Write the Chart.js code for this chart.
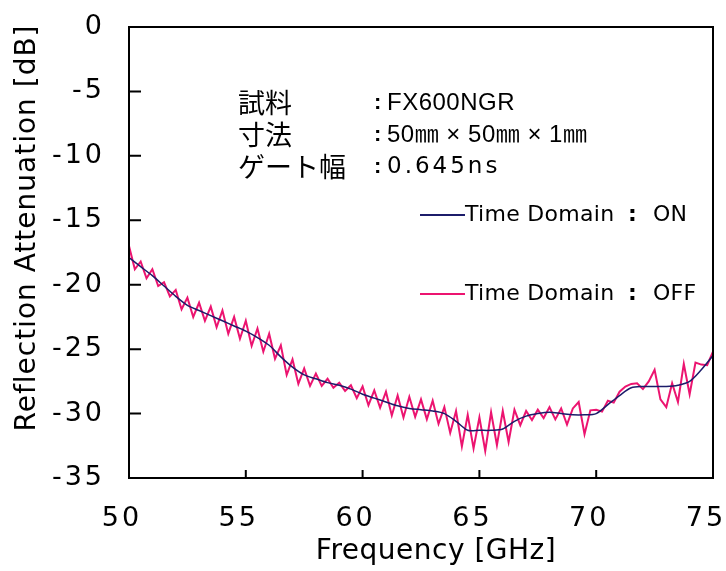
<!DOCTYPE html>
<html>
<head>
<meta charset="utf-8">
<script src="https://cdn.jsdelivr.net/npm/chart.js@4.4.1/dist/chart.umd.min.js"></script>
<style>
  html, body { margin: 0; padding: 0; background: #fff; }
  #wrap { width: 726px; height: 571px; }
</style>
</head>
<body>
<div id="wrap"><canvas id="myChart" width="726" height="571"></canvas></div>
<script>
// Time Domain ON: every 0.5 GHz from 50 to 75
const onStart = 50, onStep = 0.5;
const onValues = [
  -17.9, -18.6, -19.3, -20.1, -20.9, -21.6, -22.0, -22.4, -22.8, -23.2,
  -23.6, -24.1, -24.7, -25.6, -26.4, -27.0, -27.3, -27.6, -27.8, -28.1,
  -28.5, -28.8, -29.1, -29.4, -29.6, -29.7, -29.8, -30.0, -30.6, -31.3,
  -31.3, -31.3, -31.2, -30.6, -30.2, -30.0, -29.9, -30.0, -30.1, -30.1,
  -30.0, -29.3, -28.6, -28.0, -27.9, -27.9, -27.9, -27.8, -27.5, -26.6,
  -25.5
];
// Time Domain OFF: every 0.25 GHz from 50 to 75
const offStart = 50, offStep = 0.25;
const offValues = [
  -17.0, -18.8, -18.2, -19.5, -18.8, -20.1, -19.8, -20.9, -20.4, -21.9,
  -21.0, -22.5, -21.4, -22.8, -21.7, -23.3, -22.0, -23.8, -22.5, -24.2,
  -22.8, -24.75, -23.4, -25.2, -23.8, -25.75, -24.7, -27.0, -25.8, -27.7,
  -26.5, -27.85, -26.9, -27.85, -27.3, -28.0, -27.6, -28.25, -27.8, -28.8,
  -27.9, -29.35, -28.2, -29.55, -28.3, -30.15, -28.6, -30.3, -28.7, -30.25,
  -28.9, -30.45, -29.0, -30.8, -29.5, -31.5, -29.8, -32.55, -30.1, -32.7,
  -30.3, -32.9, -29.9, -32.45, -29.8, -32.2, -29.7, -30.9, -29.8, -30.5,
  -29.7, -30.35, -29.5, -30.45, -29.6, -30.85, -29.6, -29.1, -31.6, -29.75,
  -29.7, -29.85, -29.0, -29.15, -28.3, -27.9, -27.7, -27.65, -28.1, -27.5,
  -26.6, -28.9, -29.5, -27.65, -29.1, -26.15, -28.5, -26.05, -26.2, -26.25,
  -25.2
];
const xTicks = [50, 55, 60, 65, 70, 75];
const yTicks = [0, -5, -10, -15, -20, -25, -30, -35];
const xTitle = 'Frequency [GHz]';
const yTitle = 'Reflection Attenuation [dB]';
const infoLabels = ['試料', '寸法', 'ゲート幅'];
const infoValues = ['FX600NGR', '50㎜ × 50㎜ × 1㎜', '0.645ns'];
const seriesNames = ['ON', 'OFF'];
const seriesColors = ['#1c1c6a', '#ec1470'];

const onPoints = onValues.map((v, i) => ({ x: onStart + i * onStep, y: v }));
const offPoints = offValues.map((v, i) => ({ x: offStart + i * offStep, y: v }));

// wide letter spacing for the tick labels (pixel-font look)
const spacing = {
  id: 'spacing',
  beforeDraw(chart) { chart.ctx.letterSpacing = '3px'; }
};

// frame, inward ticks, axis titles, notes and legend
const decor = {
  id: 'decor',
  afterDraw(chart) {
    const { ctx, chartArea: a, scales: { x, y } } = chart;
    ctx.save();
    ctx.strokeStyle = '#000';
    ctx.lineWidth = 2;
    ctx.strokeRect(a.left, a.top, a.right - a.left, a.bottom - a.top);
    ctx.beginPath();
    xTicks.forEach(t => {
      const px = x.getPixelForValue(t);
      ctx.moveTo(px, a.bottom); ctx.lineTo(px, a.bottom - 8);
    });
    yTicks.forEach(t => {
      const py = y.getPixelForValue(t);
      ctx.moveTo(a.left, py); ctx.lineTo(a.left + 12, py);
    });
    ctx.stroke();

    ctx.fillStyle = '#000';
    ctx.textBaseline = 'middle';

    // axis titles
    ctx.letterSpacing = '0.5px';
    ctx.font = '28px "DejaVu Sans"';
    ctx.textAlign = 'center';
    ctx.fillText(xTitle, 436, 552);
    ctx.save();
    ctx.translate(28, 228);
    ctx.rotate(-Math.PI / 2);
    ctx.letterSpacing = '1px';
    ctx.fillText(yTitle, 0, 0);
    ctx.restore();
    ctx.textAlign = 'left';

    // sample notes
    infoLabels.forEach((s, i) => {
      const py = 103 + i * 32;
      ctx.letterSpacing = '0px';
      ctx.font = '27px "Noto Sans CJK JP"';
      ctx.fillText(s, 238, py);
      ctx.font = 'bold 22px "Liberation Sans"';
      ctx.fillText(':', 374, py);
      if (i === 2) {
        ctx.letterSpacing = '3px';
        ctx.font = '23px "DejaVu Sans"';
      } else {
        ctx.letterSpacing = '0.5px';
        ctx.font = '24px "Liberation Sans", "Noto Sans CJK JP"';
      }
      ctx.fillText(infoValues[i], 387, py);
    });

    // legend
    [215, 294].forEach((py, i) => {
      ctx.strokeStyle = seriesColors[i];
      ctx.lineWidth = 2;
      ctx.beginPath();
      ctx.moveTo(420, py); ctx.lineTo(465, py);
      ctx.stroke();
      ctx.letterSpacing = '0.3px';
      ctx.font = '22px "DejaVu Sans"';
      ctx.fillText('Time Domain', 465, py);
      ctx.font = 'bold 22px "DejaVu Sans"';
      ctx.fillText(':', 628, py);
      ctx.font = '22px "DejaVu Sans"';
      ctx.fillText(seriesNames[i], 653, py);
    });
    ctx.restore();
  }
};

new Chart(document.getElementById('myChart'), {
  type: 'line',
  data: {
    datasets: [{
      label: 'Time Domain : ON',
      data: onPoints,
      borderColor: seriesColors[0],
      borderWidth: 1.5,
      pointRadius: 0,
      tension: 0.3
    }, {
      label: 'Time Domain : OFF',
      data: offPoints,
      borderColor: seriesColors[1],
      borderWidth: 2,
      pointRadius: 0,
      tension: 0
    }]
  },
  options: {
    responsive: false,
    animation: false,
    layout: { padding: { left: 0, right: 13, top: 27, bottom: 0 } },
    plugins: {
      legend: { display: false },
      tooltip: { enabled: false }
    },
    scales: {
      x: {
        type: 'linear',
        min: 50,
        max: 75,
        afterBuildTicks: s => { s.ticks = xTicks.map(v => ({ value: v })); },
        afterFit: s => { s.height = 93; s.paddingLeft = 0; s.paddingRight = 0; },
        grid: { display: false },
        border: { display: false },
        ticks: {
          color: '#000',
          padding: 17,
          labelOffset: -7,
          maxRotation: 0,
          font: { family: 'DejaVu Sans', size: 27 }
        }
      },
      y: {
        min: -35,
        max: 0,
        afterBuildTicks: s => { s.ticks = yTicks.map(v => ({ value: v })); },
        afterFit: s => { s.width = 129; s.paddingTop = 0; s.paddingBottom = 0; },
        grid: { display: false },
        border: { display: false },
        ticks: {
          color: '#000',
          padding: 16,
          font: { family: 'DejaVu Sans', size: 27 }
        }
      }
    }
  },
  plugins: [spacing, decor]
});
</script>
</body>
</html>
